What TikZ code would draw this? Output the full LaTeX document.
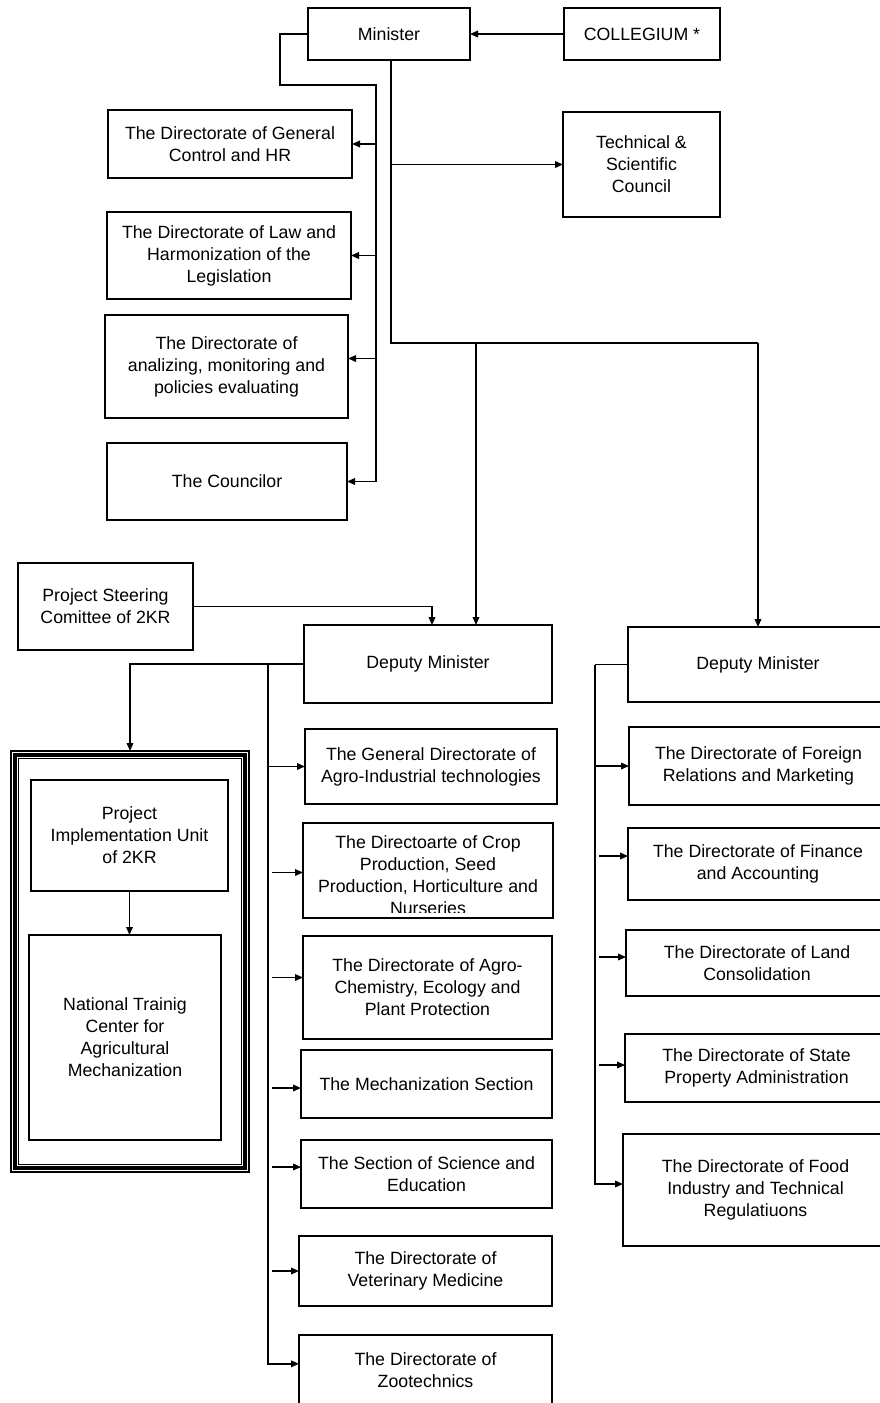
\documentclass[tikz,border=0pt]{standalone}
\usepackage{fontspec}
\setmainfont{Liberation Sans}
\usetikzlibrary{arrows.meta}
\tikzset{
  bx/.style={draw, line width=1pt, inner sep=0pt, outer sep=0pt, align=center,
    font=\fontsize{13.3}{16.5}\selectfont},
  ln/.style={line width=1pt},
  arr/.style={line width=1pt, -{Triangle[length=6pt,width=5pt]}},
  gap/.style={shorten <=3pt},
}
% \mybox[opts]{name}{x1}{y1}{x2}{y2}{text}   (pixel coordinates, y downwards)
\newcommand\mybox[7][]{\node[bx,#1, minimum width={(#5-#3)*0.75pt}, minimum height={(#6-#4)*0.75pt}] (#2) at ({(#3+#5)/2},{(#4+#6)/2}) {#7};}
% \tap[opts]{bus}{node.anchor}{dy in px}
\newcommand\tap[4][]{\coordinate (tmpT) at ([yshift={-(#4)*0.75pt}]#3); \draw[arr,#1] (#2 |- tmpT) -- (tmpT);}
\begin{document}
\begin{tikzpicture}[x=0.75pt,y=-0.75pt]
\useasboundingbox (0,0) rectangle (880,1403);

% top
\mybox{min}{308}{8}{470}{60}{Minister}
\mybox{col}{564}{8}{720}{60}{COLLEGIUM *}
\mybox{tech}{563}{112}{720}{217}{Technical \&\\Scientific\\Council}

% left staff units
\mybox{gc}{108}{110}{352}{178}{The Directorate of General\\Control and HR}
\mybox{law}{107}{212}{351}{299}{The Directorate of Law and\\Harmonization of the\\Legislation}
\mybox{ana}{105}{315}{348}{418}{The Directorate of\\analizing, monitoring and\\policies evaluating}
\mybox{cou}{107}{443}{347}{520}{The Councilor}

% deputies
\mybox{steer}{18}{563}{193}{650}{Project Steering\\Comittee of 2KR}
\mybox{dep1}{304}{625}{552}{703}{Deputy Minister}
\mybox{dep2}{628}{627}{888}{702}{Deputy Minister}

% framed project group
\mybox{frame}{11}{751}{249}{1172}{}
\draw[line width=2.4pt] ([shift={(4,4)}]frame.north west) rectangle ([shift={(-4,-4)}]frame.south east);
\draw[ln] ([shift={(7.5,7.5)}]frame.north west) rectangle ([shift={(-7.5,-7.5)}]frame.south east);
\mybox{piu}{31}{780}{228}{891}{Project\\Implementation Unit\\of 2KR}
\mybox{ntc}{29}{935}{221}{1140}{National Trainig\\Center for\\Agricultural\\Mechanization}

% middle column
\mybox{gd}{305}{729}{557}{804}{The General Directorate of\\Agro-Industrial technologies}
\mybox[path picture={
  \clip ([yshift=4.5pt]path picture bounding box.south west) rectangle (path picture bounding box.north east);
  \node[draw=none, inner sep=0pt, align=center, font=\fontsize{13.3}{16.5}\selectfont]
    at ([yshift=-3.75pt]path picture bounding box.center)
    {The Directoarte of Crop\\Production, Seed\\Production, Horticulture and\\Nurseries};}]
  {crop}{303}{823}{553}{918}{}
\mybox{agro}{303}{936}{552}{1039}{The Directorate of Agro-\\Chemistry, Ecology and\\Plant Protection}
\mybox{mech}{301}{1050}{552}{1118}{The Mechanization Section}
\mybox{sci}{301}{1140}{552}{1208}{The Section of Science and\\Education}
\mybox{vet}{299}{1236}{552}{1306}{The Directorate of\\Veterinary Medicine}
\mybox{zoo}{299}{1335}{552}{1406}{The Directorate of\\Zootechnics}

% right column
\mybox{for}{629}{727}{888}{805}{The Directorate of Foreign\\Relations and Marketing}
\mybox{fin}{628}{828}{888}{900}{The Directorate of Finance\\and Accounting}
\mybox{land}{626}{930}{888}{996}{The Directorate of Land\\Consolidation}
\mybox{state}{625}{1034}{888}{1102}{The Directorate of State\\Property Administration}
\mybox{food}{623}{1134}{888}{1246}{The Directorate of Food\\Industry and Technical\\Regulatiuons}

% ---- connectors ----
\draw[arr] (col.west) -- (min.east);

\coordinate (a1) at (280,85);
\coordinate (a2) at (376,85);
\draw[arr] (min.west) -| (a1) -- (a2) |- (cou.east);
\tap{a2}{gc.east}{0}
\tap{a2}{law.east}{0}
\tap{a2}{ana.east}{-8}

\coordinate (b1) at (391,343);
\coordinate (b2) at (476,343);
\coordinate (b3) at (758,343);
\draw[ln] (min.south -| b1) -- (b1) -- (b3);
\draw[arr] (b3) -- (dep2.north);
\draw[arr] (b2) -- (b2 |- dep1.north);
\draw[arr] (b1 |- tech.west) -- (tech.west);

\draw[arr] (steer.east) -| ([xshift=3pt]dep1.north);

\draw[arr] (dep1.west) -| (frame.north);
\draw[arr] (piu.south) -- (piu.south |- ntc.north);

\coordinate (d1) at (268,664);
\coordinate (zooA) at ([yshift=5pt]zoo.west);
\draw[arr] (d1) |- (zooA);
\tap{d1}{gd.west}{0}
\tap[gap]{d1}{crop.west}{2}
\tap[gap]{d1}{agro.west}{-10}
\tap[gap]{d1}{mech.west}{4}
\tap[gap]{d1}{sci.west}{-7}
\tap[gap]{d1}{vet.west}{0}

\coordinate (e1) at (595,664.5);
\coordinate (foodA) at ([yshift=4.5pt]food.west);
\draw[ln] (dep2.west) -- (e1);
\draw[arr] (e1) |- (foodA);
\tap{e1}{for.west}{0}
\tap[gap]{e1}{fin.west}{-8}
\tap[gap]{e1}{land.west}{-6}
\tap[gap]{e1}{state.west}{-3}
\end{tikzpicture}
\end{document}
